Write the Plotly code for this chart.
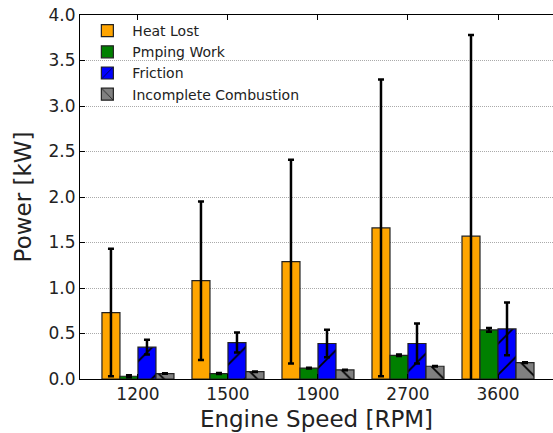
import plotly.graph_objects as go

speeds = ["1200", "1500", "1900", "2700", "3600"]

heat_lost = [0.73, 1.08, 1.29, 1.66, 1.57]
heat_lost_err = [0.70, 0.87, 1.12, 1.63, 2.21]

pumping = [0.03, 0.06, 0.12, 0.26, 0.54]
pumping_err = [0.01, 0.005, 0.005, 0.008, 0.02]

friction = [0.35, 0.40, 0.39, 0.39, 0.55]
friction_err = [0.08, 0.11, 0.15, 0.22, 0.29]

incomplete = [0.06, 0.08, 0.10, 0.14, 0.18]
incomplete_err = [0.003, 0.003, 0.003, 0.004, 0.005]

series = [
    ("Heat Lost", heat_lost, heat_lost_err, "#FFA500", ""),
    ("Pmping Work", pumping, pumping_err, "#008000", ""),
    ("Friction", friction, friction_err, "#0000FF", "/"),
    ("Incomplete Combustion", incomplete, incomplete_err, "#808080", "\\"),
]

fig = go.Figure()
for name, vals, errs, color, hatch in series:
    pattern = dict(shape=hatch, fgcolor="black", bgcolor=color, size=22,
                   solidity=0.08, fillmode="replace")
    fig.add_trace(go.Bar(
        name=name, x=list(range(len(speeds))), y=vals,
        marker=dict(color=color, line=dict(color="#222222", width=1.2),
                    pattern=pattern),
        error_y=dict(type="data", array=errs, visible=True, color="black",
                     thickness=2.5, width=3),
    ))

fig.update_layout(
    width=553, height=433,
    margin=dict(l=80, r=0, t=15, b=54),
    barmode="group", bargap=0.2, bargroupgap=0,
    plot_bgcolor="white", paper_bgcolor="white",
    font=dict(family="DejaVu Sans", color="#222222"),
    showlegend=True,
    legend=dict(x=0.005, y=1.0, xanchor="left", yanchor="top",
                bgcolor="rgba(0,0,0,0)", font=dict(size=14, color="#222222"),
                itemwidth=40, tracegroupgap=0),
)
fig.update_xaxes(
    range=[-0.644, 4.611], tickmode="array", tickvals=list(range(len(speeds))),
    ticktext=speeds, ticks="inside", ticklen=5, tickcolor="black",
    showline=True, linecolor="black", linewidth=1, mirror="ticks",
    showgrid=False, tickfont=dict(size=17),
    title=dict(text="Engine Speed [RPM]", font=dict(size=23), standoff=7),
)
fig.update_yaxes(
    range=[0, 4.0], dtick=0.5, tickformat=".1f", ticks="inside", ticklen=5,
    tickcolor="black", showline=True, linecolor="black", linewidth=1,
    mirror=False, showgrid=True, gridcolor="#aaaaaa", griddash="1px,1px",
    gridwidth=1, zeroline=False, tickfont=dict(size=17),
    title=dict(text="Power [kW]", font=dict(size=23), standoff=10),
)

fig.write_html("out.html")
